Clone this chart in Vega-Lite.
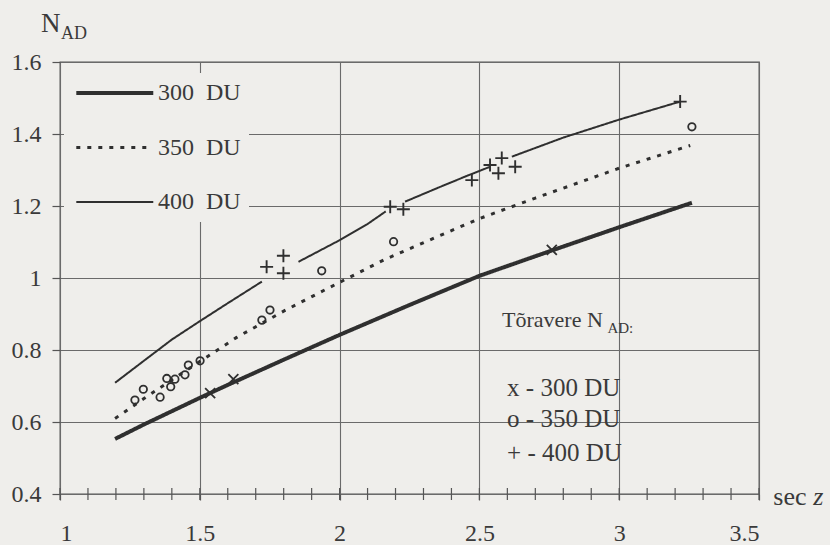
{
  "$schema": "https://vega.github.io/schema/vega-lite/v6.json",
  "width": 699,
  "height": 432,
  "autosize": {"type": "none"},
  "padding": {"left": 60, "top": 62, "right": 71, "bottom": 51},
  "background": "#efeeeb",
  "config": {
    "view": {"stroke": "#555555", "strokeWidth": 1.3},
    "font": "Liberation Serif",
    "axis": {
      "domain": false,
      "gridColor": "#6a6a6a",
      "gridWidth": 1.1,
      "gridOpacity": 1,
      "labelFont": "Liberation Serif",
      "labelFontSize": 24,
      "labelColor": "#3a3a3a",
      "tickColor": "#555555",
      "tickWidth": 1.2
    },
    "legend": {
      "labelFont": "Liberation Serif",
      "labelFontSize": 24,
      "labelColor": "#3a3a3a"
    }
  },
  "datasets": {
    "curves": [
      {"series": "300 DU", "seg": "300", "secz": 1.197, "nad": 0.553},
      {"series": "300 DU", "seg": "300", "secz": 1.3, "nad": 0.593},
      {"series": "300 DU", "seg": "300", "secz": 1.4, "nad": 0.630},
      {"series": "300 DU", "seg": "300", "secz": 1.5, "nad": 0.667},
      {"series": "300 DU", "seg": "300", "secz": 1.6, "nad": 0.703},
      {"series": "300 DU", "seg": "300", "secz": 1.8, "nad": 0.773},
      {"series": "300 DU", "seg": "300", "secz": 2.0, "nad": 0.842},
      {"series": "300 DU", "seg": "300", "secz": 2.25, "nad": 0.925},
      {"series": "300 DU", "seg": "300", "secz": 2.5, "nad": 1.006},
      {"series": "300 DU", "seg": "300", "secz": 2.75, "nad": 1.074},
      {"series": "300 DU", "seg": "300", "secz": 3.0, "nad": 1.141},
      {"series": "300 DU", "seg": "300", "secz": 3.26, "nad": 1.209},
      {"series": "350 DU", "seg": "350", "secz": 1.197, "nad": 0.610},
      {"series": "350 DU", "seg": "350", "secz": 1.3, "nad": 0.665},
      {"series": "350 DU", "seg": "350", "secz": 1.4, "nad": 0.717},
      {"series": "350 DU", "seg": "350", "secz": 1.5, "nad": 0.768},
      {"series": "350 DU", "seg": "350", "secz": 1.632, "nad": 0.835},
      {"series": "350 DU", "seg": "350", "secz": 1.8, "nad": 0.908},
      {"series": "350 DU", "seg": "350", "secz": 2.0, "nad": 0.988},
      {"series": "350 DU", "seg": "350", "secz": 2.163, "nad": 1.052},
      {"series": "350 DU", "seg": "350", "secz": 2.35, "nad": 1.115},
      {"series": "350 DU", "seg": "350", "secz": 2.5, "nad": 1.165},
      {"series": "350 DU", "seg": "350", "secz": 2.7, "nad": 1.222},
      {"series": "350 DU", "seg": "350", "secz": 3.0, "nad": 1.305},
      {"series": "350 DU", "seg": "350", "secz": 3.254, "nad": 1.368},
      {"series": "400 DU", "seg": "400a", "secz": 1.197, "nad": 0.709},
      {"series": "400 DU", "seg": "400a", "secz": 1.3, "nad": 0.770},
      {"series": "400 DU", "seg": "400a", "secz": 1.4, "nad": 0.829},
      {"series": "400 DU", "seg": "400a", "secz": 1.5, "nad": 0.880},
      {"series": "400 DU", "seg": "400a", "secz": 1.6, "nad": 0.930},
      {"series": "400 DU", "seg": "400a", "secz": 1.722, "nad": 0.990},
      {"series": "400 DU", "seg": "400b", "secz": 1.853, "nad": 1.045},
      {"series": "400 DU", "seg": "400b", "secz": 2.0, "nad": 1.105},
      {"series": "400 DU", "seg": "400b", "secz": 2.1, "nad": 1.150},
      {"series": "400 DU", "seg": "400b", "secz": 2.165, "nad": 1.185},
      {"series": "400 DU", "seg": "400c", "secz": 2.234, "nad": 1.212},
      {"series": "400 DU", "seg": "400c", "secz": 2.35, "nad": 1.250},
      {"series": "400 DU", "seg": "400c", "secz": 2.45, "nad": 1.282},
      {"series": "400 DU", "seg": "400c", "secz": 2.538, "nad": 1.309},
      {"series": "400 DU", "seg": "400d", "secz": 2.616, "nad": 1.337},
      {"series": "400 DU", "seg": "400d", "secz": 2.8, "nad": 1.390},
      {"series": "400 DU", "seg": "400d", "secz": 3.0, "nad": 1.440},
      {"series": "400 DU", "seg": "400d", "secz": 3.218, "nad": 1.490}
    ],
    "markers": [
      {"series": "300 DU", "secz": 1.537, "nad": 0.680},
      {"series": "300 DU", "secz": 1.620, "nad": 0.719},
      {"series": "300 DU", "secz": 2.759, "nad": 1.078},
      {"series": "350 DU", "secz": 1.268, "nad": 0.661},
      {"series": "350 DU", "secz": 1.298, "nad": 0.691},
      {"series": "350 DU", "secz": 1.358, "nad": 0.669},
      {"series": "350 DU", "secz": 1.382, "nad": 0.721},
      {"series": "350 DU", "secz": 1.396, "nad": 0.698},
      {"series": "350 DU", "secz": 1.411, "nad": 0.719},
      {"series": "350 DU", "secz": 1.447, "nad": 0.731},
      {"series": "350 DU", "secz": 1.459, "nad": 0.758},
      {"series": "350 DU", "secz": 1.501, "nad": 0.770},
      {"series": "350 DU", "secz": 1.722, "nad": 0.883},
      {"series": "350 DU", "secz": 1.751, "nad": 0.911},
      {"series": "350 DU", "secz": 1.936, "nad": 1.020},
      {"series": "350 DU", "secz": 2.193, "nad": 1.101},
      {"series": "350 DU", "secz": 3.26, "nad": 1.420},
      {"series": "400 DU", "secz": 1.739, "nad": 1.031},
      {"series": "400 DU", "secz": 1.799, "nad": 1.062},
      {"series": "400 DU", "secz": 1.799, "nad": 1.013},
      {"series": "400 DU", "secz": 2.181, "nad": 1.198},
      {"series": "400 DU", "secz": 2.228, "nad": 1.191},
      {"series": "400 DU", "secz": 2.473, "nad": 1.272},
      {"series": "400 DU", "secz": 2.538, "nad": 1.314},
      {"series": "400 DU", "secz": 2.580, "nad": 1.333},
      {"series": "400 DU", "secz": 2.568, "nad": 1.291},
      {"series": "400 DU", "secz": 2.628, "nad": 1.309},
      {"series": "400 DU", "secz": 3.218, "nad": 1.490}
    ],
    "xticks": [
      {"t": 1.0}, {"t": 1.1}, {"t": 1.2}, {"t": 1.3}, {"t": 1.4}, {"t": 1.5},
      {"t": 1.6}, {"t": 1.7}, {"t": 1.8}, {"t": 1.9}, {"t": 2.0}, {"t": 2.1},
      {"t": 2.2}, {"t": 2.3}, {"t": 2.4}, {"t": 2.5}, {"t": 2.6}, {"t": 2.7},
      {"t": 2.8}, {"t": 2.9}, {"t": 3.0}, {"t": 3.1}, {"t": 3.2}, {"t": 3.3},
      {"t": 3.4}, {"t": 3.5}
    ]
  },
  "layer": [
    {
      "data": {"name": "curves"},
      "mark": {"type": "line", "color": "#2f2f2f", "strokeCap": "butt"},
      "encoding": {
        "x": {
          "field": "secz", "type": "quantitative",
          "scale": {"domain": [1, 3.5], "nice": false, "zero": false},
          "axis": {
            "title": null,
            "values": [1, 1.5, 2, 2.5, 3, 3.5],
            "format": ".2~f",
            "grid": true,
            "tickSize": 6,
            "labelPadding": 21
          }
        },
        "y": {
          "field": "nad", "type": "quantitative",
          "scale": {"domain": [0.4, 1.6], "nice": false, "zero": false},
          "axis": {
            "title": null,
            "values": [0.4, 0.6, 0.8, 1.0, 1.2, 1.4, 1.6],
            "format": ".1~f",
            "grid": true,
            "tickSize": 8,
            "labelPadding": 11
          }
        },
        "detail": {"field": "seg"},
        "strokeDash": {
          "field": "series", "type": "nominal",
          "scale": {"domain": ["300 DU", "350 DU", "400 DU"], "range": [[1, 0], [4, 7], [1, 0]]},
          "legend": {
            "title": null,
            "orient": "none",
            "legendX": 4,
            "legendY": 11,
            "padding": 8,
            "fillColor": "#efeeeb",
            "symbolType": "M-1,0L9,0",
            "symbolSize": 237,
            "symbolStrokeColor": "#2f2f2f",
            "labelOffset": 62,
            "rowPadding": 30.5,
            "labelExpr": "replace(datum.label, ' ', '\u2002')"
          }
        },
        "strokeWidth": {
          "field": "series", "type": "nominal",
          "scale": {"domain": ["300 DU", "350 DU", "400 DU"], "range": [4, 2]},
          "legend": {
            "title": null,
            "orient": "none",
            "legendX": 4,
            "legendY": 11,
            "padding": 8,
            "fillColor": "#efeeeb",
            "symbolType": "M-1,0L9,0",
            "symbolSize": 237,
            "symbolStrokeColor": "#2f2f2f",
            "labelOffset": 62,
            "rowPadding": 30.5,
            "labelExpr": "replace(datum.label, ' ', '\u2002')"
          }
        }
      }
    },
    {
      "data": {"name": "xticks"},
      "mark": {"type": "tick", "orient": "vertical", "size": 12, "thickness": 1.2, "color": "#555555", "opacity": 1},
      "encoding": {
        "x": {"field": "t", "type": "quantitative"},
        "y": {"datum": 0.4}
      }
    },
    {
      "data": {"name": "markers"},
      "transform": [{"filter": "datum.series == '300 DU'"}],
      "mark": {"type": "point", "shape": "M-1,-1L1,1M-1,1L1,-1", "size": 100, "filled": false, "strokeWidth": 1.8, "color": "#2f2f2f", "opacity": 1},
      "encoding": {
        "x": {"field": "secz", "type": "quantitative"},
        "y": {"field": "nad", "type": "quantitative"}
      }
    },
    {
      "data": {"name": "markers"},
      "transform": [{"filter": "datum.series == '350 DU'"}],
      "mark": {"type": "point", "shape": "circle", "size": 55, "filled": false, "strokeWidth": 1.8, "color": "#2f2f2f", "opacity": 1},
      "encoding": {
        "x": {"field": "secz", "type": "quantitative"},
        "y": {"field": "nad", "type": "quantitative"}
      }
    },
    {
      "data": {"name": "markers"},
      "transform": [{"filter": "datum.series == '400 DU'"}],
      "mark": {"type": "point", "shape": "M-1,0L1,0M0,-1L0,1", "size": 169, "filled": false, "strokeWidth": 1.9, "color": "#2f2f2f", "opacity": 1},
      "encoding": {
        "x": {"field": "secz", "type": "quantitative"},
        "y": {"field": "nad", "type": "quantitative"}
      }
    },
    {
      "data": {"values": [{}]},
      "mark": {"type": "text", "text": "N", "font": "Liberation Serif", "fontSize": 27, "align": "left", "baseline": "alphabetic", "color": "#3a3a3a"},
      "encoding": {"x": {"datum": 0.932}, "y": {"datum": 1.683}}
    },
    {
      "data": {"values": [{}]},
      "mark": {"type": "text", "text": "AD", "font": "Liberation Serif", "fontSize": 18, "align": "left", "baseline": "alphabetic", "color": "#3a3a3a"},
      "encoding": {"x": {"datum": 1.004}, "y": {"datum": 1.664}}
    },
    {
      "data": {"values": [{}]},
      "mark": {"type": "text", "text": "sec", "font": "Liberation Serif", "fontSize": 26, "align": "left", "baseline": "alphabetic", "color": "#3a3a3a"},
      "encoding": {"x": {"datum": 3.551}, "y": {"datum": 0.3694}}
    },
    {
      "data": {"values": [{}]},
      "mark": {"type": "text", "text": "z", "font": "Liberation Serif", "fontSize": 26, "fontStyle": "italic", "align": "left", "baseline": "alphabetic", "color": "#3a3a3a"},
      "encoding": {"x": {"datum": 3.694}, "y": {"datum": 0.3694}}
    },
    {
      "data": {"values": [{}]},
      "mark": {"type": "text", "text": "Tõravere N", "font": "Liberation Serif", "fontSize": 22, "align": "left", "baseline": "alphabetic", "color": "#3a3a3a"},
      "encoding": {"x": {"datum": 2.581}, "y": {"datum": 0.864}}
    },
    {
      "data": {"values": [{}]},
      "mark": {"type": "text", "text": "AD:", "font": "Liberation Serif", "fontSize": 15, "align": "left", "baseline": "alphabetic", "color": "#3a3a3a"},
      "encoding": {"x": {"datum": 2.958}, "y": {"datum": 0.846}}
    },
    {
      "data": {"values": [{}]},
      "mark": {"type": "text", "text": "x - 300 DU", "font": "Liberation Serif", "fontSize": 25, "align": "left", "baseline": "alphabetic", "color": "#3a3a3a"},
      "encoding": {"x": {"datum": 2.599}, "y": {"datum": 0.672}}
    },
    {
      "data": {"values": [{}]},
      "mark": {"type": "text", "text": "o - 350 DU", "font": "Liberation Serif", "fontSize": 25, "align": "left", "baseline": "alphabetic", "color": "#3a3a3a"},
      "encoding": {"x": {"datum": 2.599}, "y": {"datum": 0.585}}
    },
    {
      "data": {"values": [{}]},
      "mark": {"type": "text", "text": "+ - 400 DU", "font": "Liberation Serif", "fontSize": 25, "align": "left", "baseline": "alphabetic", "color": "#3a3a3a"},
      "encoding": {"x": {"datum": 2.599}, "y": {"datum": 0.4925}}
    }
  ]
}
